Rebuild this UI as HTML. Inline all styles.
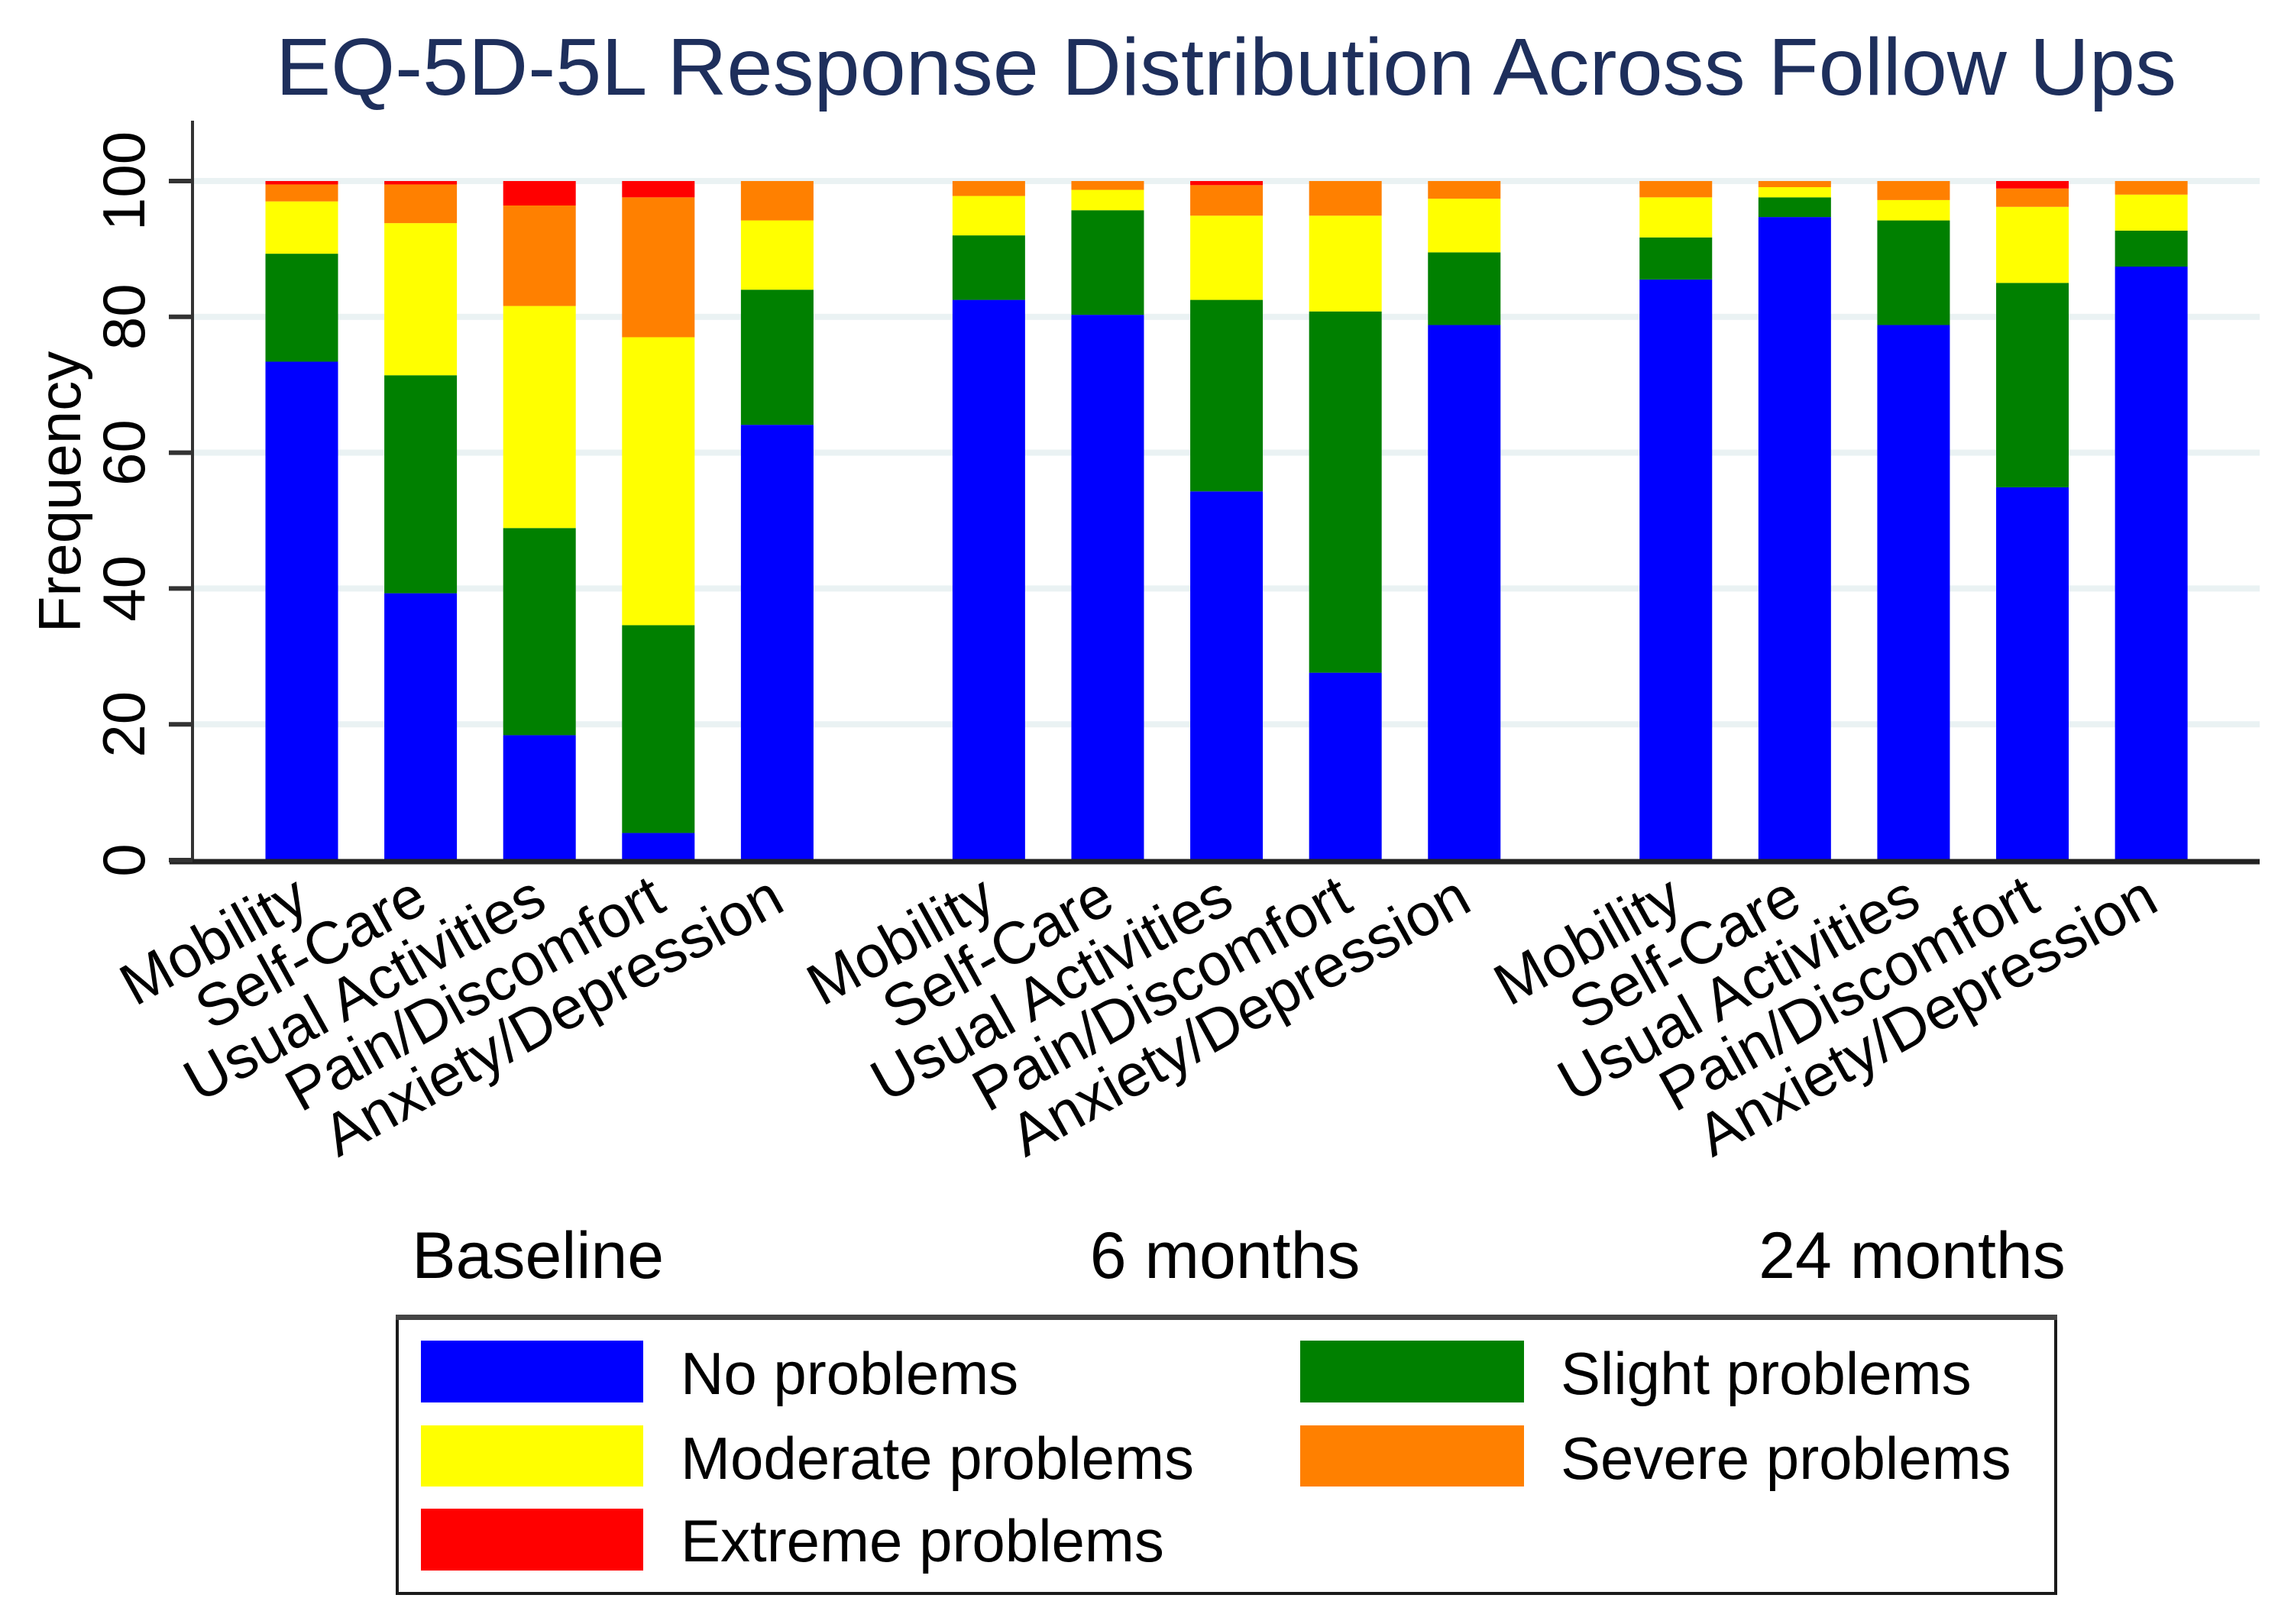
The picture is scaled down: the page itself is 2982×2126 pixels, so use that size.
<!DOCTYPE html>
<html lang="en">
<head>
<meta charset="utf-8">
<title>EQ-5D-5L Response Distribution Across Follow Ups</title>
<style>
html,body{margin:0;padding:0;background:#fff;}
svg{display:block;font-family:"Liberation Sans",Arial,sans-serif;}
</style>
</head>
<body>
<svg id="chart" xmlns="http://www.w3.org/2000/svg" width="2982" height="2126" viewBox="0 0 2982 2126">
  <rect x="0" y="0" width="2982" height="2126" fill="#ffffff"/>
  <text x="361" y="124" font-size="106" fill="#1e2f5c" textLength="2488" lengthAdjust="spacingAndGlyphs">EQ-5D-5L Response Distribution Across Follow Ups</text>
  <text transform="translate(105,644) rotate(-90)" text-anchor="middle" font-size="78" fill="#000">Frequency</text>
  <g id="grid"></g>
  <g id="bars"></g>
  <g id="axes"></g>
  <g id="labels"></g>
  <g>
    <rect x="520" y="1725" width="2171" height="361" fill="#fff" stroke="#1a1a1a" stroke-width="4"/>
    <rect x="518" y="1721" width="2175" height="7" fill="#444"/>
    <g>
      <rect x="551" y="1755" width="291" height="81" fill="#0000ff"/>
      <text x="891" y="1825" font-size="78" fill="#000">No problems</text>
    </g>
    <g>
      <rect x="1702" y="1755" width="293" height="81" fill="#008000"/>
      <text x="2043" y="1825" font-size="78" fill="#000">Slight problems</text>
    </g>
    <g>
      <rect x="551" y="1866" width="291" height="80" fill="#ffff00"/>
      <text x="891" y="1936" font-size="78" fill="#000">Moderate problems</text>
    </g>
    <g>
      <rect x="1702" y="1866" width="293" height="80" fill="#ff8000"/>
      <text x="2043" y="1936" font-size="78" fill="#000">Severe problems</text>
    </g>
    <g>
      <rect x="551" y="1975" width="291" height="81" fill="#ff0000"/>
      <text x="891" y="2044" font-size="78" fill="#000">Extreme problems</text>
    </g>
  </g>
</svg>
<script>
const categories = ["Mobility","Self-Care","Usual Activities","Pain/Discomfort","Anxiety/Depression"];
const groups = ["Baseline","6 months","24 months"];
const yTicks = [0,20,40,60,80,100];
const seriesNames = ["No problems","Slight problems","Moderate problems","Severe problems","Extreme problems"];
const seriesColors = ["#0000ff","#008000","#ffff00","#ff8000","#ff0000"];
// Percent of respondents per level; order: Baseline x5, 6 months x5, 24 months x5
const noProblems = [73.4,39.3,18.4,4.0,64.1, 82.5,80.3,54.3,27.6,78.8, 85.5,94.7,78.8,54.9,87.4];
const slightProblems = [15.9,32.1,30.5,30.6,19.9, 9.5,15.4,28.2,53.2,10.7, 6.2,2.9,15.4,30.1,5.3];
const moderateProblems = [7.7,22.4,32.7,42.4,10.2, 5.8,3.0,12.4,14.1,7.9, 5.9,1.5,3.0,11.2,5.3];
const severeProblems = [2.5,5.7,14.8,20.6,5.8, 2.2,1.3,4.5,5.1,2.6, 2.4,0.9,2.8,2.7,2.0];
const extremeProblems = [0.5,0.5,3.6,2.4,0, 0,0,0.6,0,0, 0,0,0,1.1,0];
const seriesValues = [noProblems,slightProblems,moderateProblems,severeProblems,extremeProblems];

const NS = "http://www.w3.org/2000/svg";
const Y0 = 1126, Y_PER_UNIT = 8.89;
const X0 = 395, STEP = 155.6, GROUP_OFFSET = 5.78, BAR_W = 95;
const AXIS_X = 252, AXIS_RIGHT = 2958;

function yScale(v){ return Y0 - v * Y_PER_UNIT; }
function xCenter(g, c){ return X0 + (g * GROUP_OFFSET + c) * STEP; }
function make(tag, parentId, attrs){
  const el = document.createElementNS(NS, tag);
  for (const k in attrs) el.setAttribute(k, attrs[k]);
  document.getElementById(parentId).appendChild(el);
  return el;
}

// gridlines
yTicks.filter(t => t > 0).forEach(t => {
  const el = make("rect", "grid", {x: AXIS_X, y: yScale(t) - 4, width: AXIS_RIGHT - AXIS_X, height: 8, fill: "#eaf2f3"});
  
  
});

// bars
groups.forEach((grp, g) => {
  categories.forEach((cat, c) => {
    const idx = g * categories.length + c;
    let cum = 0;
    seriesValues.forEach((vals, s) => {
      const v = vals[idx];
      if (v <= 0) return;
      const top = yScale(cum + v), bottom = yScale(cum);
      const el = make("rect", "bars", {x: xCenter(g, c) - BAR_W / 2, y: top, width: BAR_W, height: bottom - top, fill: seriesColors[s]});
      
      
      const tip = document.createElementNS(NS, "title");
      tip.textContent = grp + " / " + cat + " / " + seriesNames[s] + ": " + v;
      el.appendChild(tip);
      cum += v;
    });
  });
});

// axes
const yAxisLine = make("line", "axes", {x1: AXIS_X, x2: AXIS_X, y1: 158, y2: yScale(0), stroke: "#333", "stroke-width": 4});


const xAxisLine = make("line", "axes", {x1: 222, x2: AXIS_RIGHT, y1: yScale(0) + 2, y2: yScale(0) + 2, stroke: "#222", "stroke-width": 7});



yTicks.forEach(t => {
  const tick = make("line", "axes", {x1: 221, x2: AXIS_X, y1: yScale(t), y2: yScale(t), stroke: "#333", "stroke-width": 6});
  
  
  const lab = make("text", "labels", {transform: "translate(189," + yScale(t) + ") rotate(-90)", "text-anchor": "middle", "font-size": 78, fill: "#000"});
  
  
  lab.textContent = t;
});

// category and group labels
groups.forEach((grp, g) => {
  categories.forEach((cat, c) => {
    const lab = make("text", "labels", {transform: "translate(" + (xCenter(g, c) + 13) + ",1190) rotate(-29)", "text-anchor": "end", "font-size": 78, fill: "#000"});
    
    
    lab.textContent = cat;
  });
  const gl = make("text", "labels", {x: xCenter(g, 2) - 2, y: 1673, "text-anchor": "middle", "font-size": 86, fill: "#000"});
  
  
  gl.textContent = grp;
});
</script>
</body>
</html>
